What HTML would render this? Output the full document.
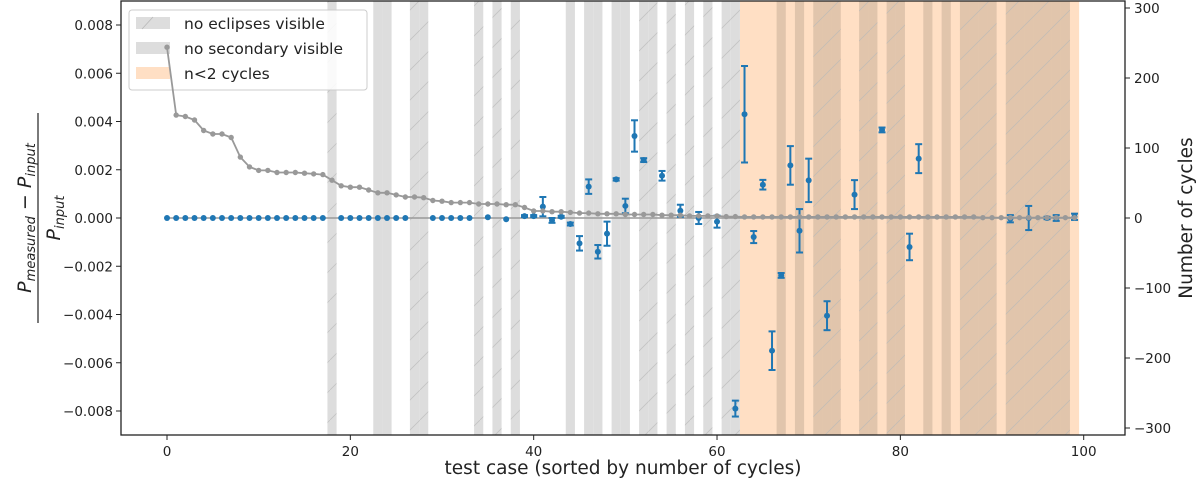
<!DOCTYPE html>
<html><head><meta charset="utf-8"><style>
body{margin:0;background:#fff;width:1200px;height:484px;overflow:hidden;font-family:"Liberation Sans","DejaVu Sans",sans-serif}
svg text{font-family:"DejaVu Sans","Liberation Sans",sans-serif}
</style></head><body>
<svg id="c" width="1200" height="484" xmlns="http://www.w3.org/2000/svg">
<defs><pattern id="hatch" width="30" height="30" patternUnits="userSpaceOnUse"><path d="M0,30 L30,0" stroke="#b8b8b8" stroke-width="0.8" fill="none" opacity="0.7"/></pattern></defs>
<g id="bands"></g>
<g id="legend" font-size="15.5" fill="#222">
<rect x="129" y="10" width="238" height="80" rx="3" fill="#fff" fill-opacity="0.85" stroke="#ccc"/>
<rect x="136" y="17" width="34" height="12" fill="#dddddd"/><line x1="142" y1="29" x2="153" y2="17" stroke="#b8b8b8" stroke-width="0.8"/>
<text x="184" y="29">no eclipses visible</text>
<rect x="136" y="42" width="34" height="12" fill="#dddddd"/>
<text x="184" y="54">no secondary visible</text>
<rect x="136" y="67" width="34" height="12" fill="#ffdfc4"/>
<text x="184" y="79">n&lt;2 cycles</text>
</g>
</svg>
<script>
const noEclipse=[18,27,28,34,36,38,52,53,55,57,59,61,62,71,72,73,76,77,79,80,87,88,89,90,92,93,94,95,96,97,98];
const noSecondary=[23,24,44,46,47,49,50,67,69,83,85];
const fewCyclesStart=62.5, fewCyclesEnd=99.5;
const ptIdx=[0,1,2,3,4,5,6,7,8,9,10,11,12,13,14,15,16,17,19,20,21,22,23,24,25,26,29,30,31,32,33,35,37,39,40,41,42,43,44,45,46,47,48,49,50,51,52,54,56,58,60,62,63,64,65,66,67,68,69,70,72,75,78,81,82,92,94,96,97,99];
const ptVal=[0,0,0,0,0,0,0,0,0,0,0,0,0,0,0,0,0,0,0,0,0,0,0,0,0,0,0,0,0,0,0,0.00003,-0.00005,0.00008,0.00008,0.00047,-0.0001,0.00005,-0.00025,-0.00105,0.0013,-0.0014,-0.00065,0.0016,0.0005,0.0034,0.0024,0.00175,0.0003,0,-0.00015,-0.0079,0.0043,-0.00079,0.00138,-0.0055,-0.00238,0.00218,-0.00053,0.00156,-0.00405,0.00097,0.00365,-0.0012,0.00246,-0.00003,0,0,0,0.00005];
const ptErr=[0,0,0,0,0,0,0,0,0,0,0,0,0,0,0,0,0,0,0,0,0,0,0,0,0,0,0,0,0,0,0,0,0,0.00004,0.00004,0.0004,0.0001,0.00004,0.00006,0.0003,0.0003,0.00028,0.0005,0.00005,0.0003,0.00065,0.00008,0.0002,0.00025,0.00025,0.00025,0.00033,0.002,0.00025,0.0002,0.0008,0.0001,0.0008,0.0009,0.0009,0.0006,0.0006,0.0001,0.00055,0.0006,0.00015,0.0005,0.00005,0.00012,0.00013];
const cycles=[244,147,145,140,125,120,120,115,87,73,68,68,65,65,65,64,63,62,54,46,44,44,40,36,36,33,30,30,29,25,24,22,22,22,20,20,20,19,19,15,10,10,9,9,8,7,7,6,6,6,5,5,5,5,4,4,4,3,3,3,3,2,2,1.5,1.5,1.5,1.5,1.5,1.5,1.5,1.5,1.5,1.5,1.5,1.5,1.5,1.5,1.5,1.5,1.5,1.5,1.5,1.5,1.5,1.5,1.5,1.5,1.5,1.5,0.5,0.5,0.5,0.5,0.5,0.5,0.5,0.5,0.5,0.5,0.5];
const xTicks=[0,20,40,60,80,100];
const yTicks=[0.008,0.006,0.004,0.002,0,-0.002,-0.004,-0.006,-0.008];
const yTickLabels=["0.008","0.006","0.004","0.002","0.000","\u22120.002","\u22120.004","\u22120.006","\u22120.008"];
const rTicks=[300,200,100,0,-100,-200,-300];
const rTickLabels=["300","200","100","0","\u2212100","\u2212200","\u2212300"];

const L=121,R=1125,T=1,B=435;
const X=v=>167+v*9.167;
const Y=v=>218-v*24125;
const YR=v=>218-v*0.7;
const svg=document.getElementById('c');
const bandsG=document.getElementById('bands');
const NS='http://www.w3.org/2000/svg';
function mk(tag,attrs,parent){const e=document.createElementNS(NS,tag);for(const k in attrs)e.setAttribute(k,attrs[k]);(parent||svg).appendChild(e);return e;}
function band(i,fill,name){const r=mk('rect',{x:X(i-0.5),y:T,width:X(i+0.5)-X(i-0.5),height:B-T,fill:fill},bandsG);return r;}
const o=mk('rect',{x:X(fewCyclesStart),y:T,width:X(fewCyclesEnd)-X(fewCyclesStart),height:B-T,fill:'#ffdfc4'},bandsG);


const gcol=i=>i>62?'rgba(170,150,130,0.35)':'#dddddd';
noSecondary.forEach(i=>{band(i,gcol(i),'no-secondary-band');});
noEclipse.forEach(i=>{band(i,gcol(i),'no-eclipse-band');band(i,'url(#hatch)','no-eclipse-hatch');});
const zl=mk('line',{x1:X(0),x2:X(99),y1:Y(0),y2:Y(0),stroke:'#999',"stroke-width":1.5});


ptIdx.forEach((i,k)=>{const v=ptVal[k],e=ptErr[k],x=X(i);
if(e>0){const g=mk('g',{stroke:'#1f77b4',"stroke-width":2});


mk('line',{x1:x,x2:x,y1:Y(v+e),y2:Y(v-e)},g);mk('line',{x1:x-3.5,x2:x+3.5,y1:Y(v+e),y2:Y(v+e)},g);mk('line',{x1:x-3.5,x2:x+3.5,y1:Y(v-e),y2:Y(v-e)},g);}
const p=mk('circle',{cx:x,cy:Y(v),r:3,fill:'#1f77b4'});

});
let d='';cycles.forEach((c,i)=>{d+=(i?'L':'M')+X(i).toFixed(1)+','+YR(c).toFixed(1);});
const cl=mk('path',{d:d,fill:'none',stroke:'#999',"stroke-width":1.8});


cycles.forEach((c,i)=>{const p=mk('circle',{cx:X(i),cy:YR(c),r:2.7,fill:'#999'});

});
const fr=mk('rect',{x:L,y:T,width:R-L,height:B-T,fill:'none',stroke:'#222',"stroke-width":1.3});


xTicks.forEach(t=>{mk('line',{x1:X(t),x2:X(t),y1:B,y2:B+5,stroke:'#222'});const tx=mk('text',{x:X(t),y:B+21,"text-anchor":"middle","font-size":13.5,fill:'#222'});tx.textContent=t;

});
yTicks.forEach((t,k)=>{mk('line',{x1:L-5,x2:L,y1:Y(t),y2:Y(t),stroke:'#222'});const tx=mk('text',{x:L-8,y:Y(t)+5,"text-anchor":"end","font-size":13.5,fill:'#222'});tx.textContent=yTickLabels[k];

});
rTicks.forEach((t,k)=>{mk('line',{x1:R,x2:R+5,y1:YR(t),y2:YR(t),stroke:'#222'});const tx=mk('text',{x:R+9,y:YR(t)+5,"font-size":13.5,fill:'#222'});tx.textContent=rTickLabels[k];

});
</script>
<svg width="1200" height="484" style="position:absolute;left:0;top:0">
<text x="623" y="474" text-anchor="middle" font-size="18.5" fill="#222" font-family="DejaVu Sans, Liberation Sans, sans-serif">test case (sorted by number of cycles)</text>
<text transform="translate(1192,218) rotate(-90)" text-anchor="middle" font-size="18.5" fill="#222" font-family="DejaVu Sans, Liberation Sans, sans-serif">Number of cycles</text>
<g transform="translate(35,218) rotate(-90)" font-family="DejaVu Serif, Liberation Serif, serif" font-style="italic" fill="#222">
<text x="0" y="-4" text-anchor="middle" font-size="19">P<tspan font-size="13" dy="4">measured</tspan><tspan dy="-4"> − P</tspan><tspan font-size="13" dy="4">input</tspan></text>
<line x1="-105" x2="105" y1="3" y2="3" stroke="#222" stroke-width="1.2"/>
<text x="0" y="25" text-anchor="middle" font-size="19">P<tspan font-size="13" dy="4">input</tspan></text>
</g>
</svg>
</body></html>
